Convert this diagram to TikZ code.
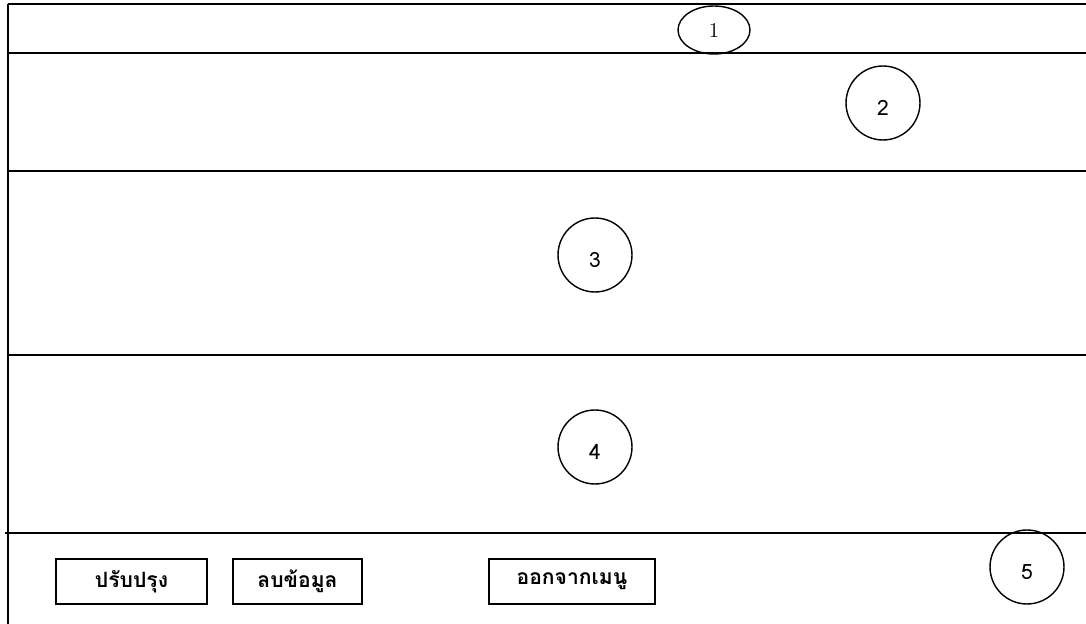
\documentclass[tikz,border=0pt]{standalone}
\usepackage{fontspec}
\newfontfamily\thaifont[Script=Thai]{Loma}
\usetikzlibrary{shapes.geometric}
\tikzstyle{frameline} = [line width=0.8pt, draw=black]
\tikzstyle{numcircle} = [circle, draw=black, line width=0.8pt, minimum size=1.48cm, inner sep=0pt, text height=0.5cm, text depth=0cm, font=\thaifont\large]
\tikzstyle{numoval} = [ellipse, draw=black, line width=0.8pt, minimum width=1.44cm, minimum height=0.96cm, inner sep=0pt, font=\large]
\tikzstyle{button} = [rectangle, draw=black, line width=0.8pt, minimum height=0.9cm, text centered, font=\thaifont\bfseries\large]

\begin{document}
\begin{tikzpicture}[x=0.02cm, y=-0.02cm, node distance=2cm]
	\useasboundingbox (0,0) rectangle (1086,624);

	% frame of the form
	\draw [frameline] (8,4) -- (1086,4);
	\draw [frameline] (8,53) -- (1086,53);
	\draw [frameline] (8,171) -- (1086,171);
	\draw [frameline] (8,355) -- (1086,355);
	\draw [frameline] (5,533) -- (1086,533);
	\draw [frameline] (8,4) -- (8,624);

	% numbered parts
	\node (n1) [numoval] at (714,30) {1};
	\node (n2) [numcircle] at (883,103) {2};
	\node (n3) [numcircle] at (595,255) {3};
	\node (n4) [numcircle] at (595,447) {4};
	\node (n5) [numcircle] at (1027,567) {5};

	% buttons
	\node (update) [button, minimum width=3.02cm] at (131.5,581.5) {ปรับปรุง};
	\node (delete) [button, minimum width=2.58cm, right of=update, xshift=1.32cm] {ลบข้อมูล};
	\node (quit) [button, minimum width=3.32cm, right of=delete, xshift=3.49cm] {ออกจากเมนู};
\end{tikzpicture}
\end{document}
